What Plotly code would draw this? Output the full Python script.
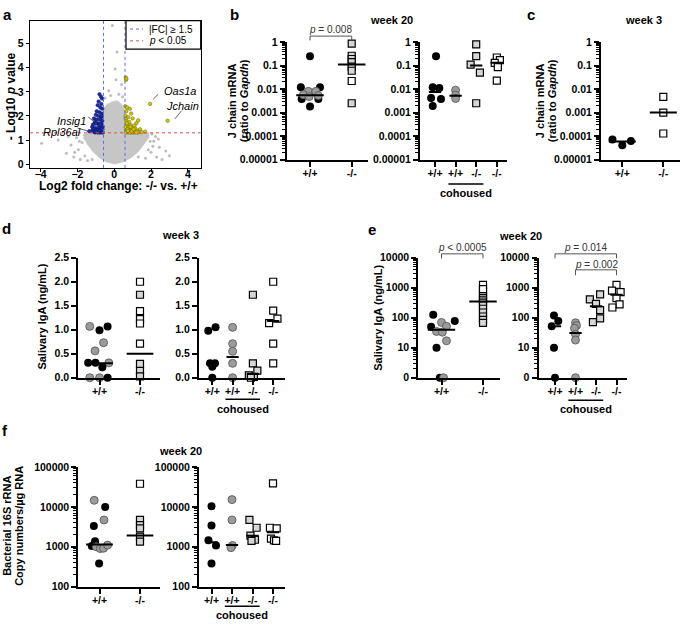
import plotly.graph_objects as go

W, H = 685, 626
FONT = "Liberation Sans"

# ==================== a: volcano data ====================
# outline of the dense cloud of unchanged genes (log2 FC, -log10 p)
cloud_x = [0.0, 0.5, 0.9, 1.3, 1.6, 1.9, 1.9, 0.62, 0.6, 0.4, 0.15, -0.1, -0.4, -0.6,
           -0.62, -1.5, -1.7, -1.45, -1.15, -0.8, -0.45, 0.0]
cloud_y = [0.0, 0.08, 0.25, 0.5, 0.8, 1.1, 1.32, 1.32, 2.2, 2.5, 2.65, 2.6, 2.5, 2.3,
           1.32, 1.32, 1.1, 0.8, 0.5, 0.25, 0.08, 0.0]
# scattered unchanged genes outside the cloud
grey_pts = [(-3.95, 0.87), (-3.05, 1.0), (-2.6, 0.45), (-2.35, 0.8), (-2.2, 0.3), (-2.05, 1.1),
            (-1.95, 0.6), (-1.85, 0.2), (-2.5, 1.15), (-1.75, 0.9), (-1.6, 0.35), (-1.45, 0.15),
            (2.0, 0.5), (2.15, 0.95), (2.3, 0.3), (2.45, 0.7), (2.6, 0.2), (2.8, 0.55), (3.0, 0.35),
            (2.25, 1.15), (2.05, 1.25), (1.85, 0.6), (1.7, 0.25), (-0.1, 5.75), (0.15, 4.65),
            (0.05, 3.95), (0.4, 3.3), (-0.3, 3.05), (0.25, 2.9), (-0.5, 2.75), (0.45, 2.8),
            (0.1, 3.5), (-0.2, 2.85), (1.3, 0.3), (-1.2, 0.2), (2.1, 0.75), (-1.9, 0.95),
            (-2.15, 0.5), (1.95, 0.95), (2.4, 1.05), (-1.6, 1.2)]
# down-regulated (blue) and up-regulated (yellow) genes
down_pts = [(-0.80, 2.90), (-0.72, 2.80), (-0.66, 2.72), (-0.85, 2.60), (-0.70, 2.50), (-0.90, 2.45),
            (-0.76, 2.35), (-0.65, 2.30), (-0.95, 2.20), (-0.80, 2.15), (-0.68, 2.10), (-1.00, 2.05),
            (-0.86, 2.00), (-0.71, 1.95), (-1.10, 1.90), (-0.95, 1.85), (-0.78, 1.85), (-0.65, 1.80),
            (-1.05, 1.75), (-0.88, 1.70), (-0.72, 1.70), (-1.15, 1.65), (-1.00, 1.68), (-0.82, 1.60),
            (-0.66, 1.60), (-1.20, 1.55), (-1.05, 1.50), (-0.90, 1.50), (-0.75, 1.50), (-0.64, 1.45),
            (-1.15, 1.45), (-1.00, 1.42), (-0.85, 1.40), (-0.70, 1.40), (-1.22, 1.38), (-1.10, 1.35),
            (-0.95, 1.35), (-0.80, 1.33), (-0.66, 1.33), (-1.05, 1.32), (-0.90, 1.31), (-0.75, 1.31),
            (-0.62, 1.31), (-0.68, 2.00), (-0.74, 1.65), (-0.63, 1.55), (-0.69, 1.45), (-0.77, 1.40),
            (-0.83, 1.36), (-0.92, 1.38), (-1.00, 1.34), (-1.36, 1.37)]
up_pts = [(0.62, 3.60), (0.64, 3.50), (0.66, 3.55), (0.60, 2.40), (0.70, 2.35), (0.85, 2.30),
          (0.65, 2.20), (0.92, 2.10), (0.62, 2.00), (0.76, 1.95), (1.00, 1.90), (0.66, 1.80),
          (0.82, 1.75), (1.20, 1.70), (1.30, 1.82), (0.70, 1.65), (0.90, 1.62), (1.10, 1.60),
          (0.62, 1.55), (0.78, 1.52), (0.95, 1.50), (1.15, 1.48), (1.40, 1.45), (0.66, 1.42),
          (0.85, 1.40), (1.00, 1.40), (1.25, 1.38), (1.68, 1.35), (0.70, 1.33), (0.90, 1.32),
          (1.10, 1.32), (1.30, 1.32), (1.50, 1.33), (0.63, 1.31), (0.80, 1.31), (1.00, 1.31),
          (1.20, 1.31), (0.72, 1.45), (0.88, 1.55), (0.68, 1.70), (0.74, 1.38), (0.95, 1.36),
          (1.05, 1.45), (0.62, 1.90), (1.95, 2.50), (2.90, 1.80)]
fc_cut = 0.585   # log2(1.5)
p_cut = 1.301    # -log10(0.05)

cats2 = ["+/+", "-/-"]
cats4 = ["+/+", "+/+", "-/-", "-/-"]

# ==================== b: J chain mRNA, week 20 ====================
b1_wt_black = [0.25, 0.012, 0.012, 0.0038, 0.0038, 0.0018]
b1_wt_black_jit = [0, -0.22, 0.24, -0.2, 0.2, 0]
b1_wt_grey = [0.008, 0.008, 0.0058, 0.0048, 0.0053]
b1_wt_grey_jit = [-0.04, 0.14, -0.16, -0.02, 0.2]
b1_ko_grey = [0.85, 0.26, 0.19, 0.14, 0.09, 0.06, 0.0025]
b1_ko_white = [0.022]
b1_med = [0.0055, 0.11]

b2_wt_black = [0.25, 0.012, 0.011, 0.0042, 0.0038, 0.0019]
b2_wt_black_jit = [0.05, -0.11, 0.21, -0.19, 0.29, -0.11]
b2_wt_grey = [0.009, 0.0055, 0.004]
b2_ko_grey = [0.8, 0.25, 0.11, 0.05, 0.0025]
b2_ko_grey_jit = [0, 0, -0.27, 0.18, 0]
b2_ko_white = [0.22, 0.17, 0.13, 0.085, 0.023]
b2_ko_white_jit = [0, 0.15, -0.1, 0.05, 0]
b2_med = [0.0075, 0.0052, 0.1, 0.13]

# ==================== c: J chain mRNA, week 3 ====================
c_wt_black = [0.000073, 0.000041, 0.000062]
c_wt_black_jit = [-0.24, 0, 0.21]
c_ko_white = [0.0047, 0.001, 0.00013]
c_med = [0.00006, 0.001]

# ==================== d: salivary IgA, week 3 ====================
d1_wt_black = [0.99, 1.07, 0.31, 0.31, 0.22, 0.0]
d1_wt_black_jit = [0, 0.2, -0.28, -0.1, 0.07, 0.2]
d1_wt_grey = [1.07, 0.73, 0.56, 0.31, 0.0, 0.0]
d1_wt_grey_jit = [-0.24, 0.1, -0.11, 0.23, -0.24, 0]
d1_ko_white = [2.0, 1.39, 1.22, 1.13, 0.71]
d1_ko_grey = [1.73, 0.29, 0.14, 0.03]
d1_med = [0.3, 0.5]

d2_wt_black = [0.98, 1.05, 0.3, 0.3, 0.23, 0.0]
d2_wt_black_jit = [-0.2, 0.16, -0.11, 0.13, 0, 0]
d2_wt_grey = [1.05, 0.71, 0.55, 0.3, 0.0]
d2_ko_grey = [1.73, 0.3, 0.15, 0.05, 0.02, 0.0]
d2_ko_grey_jit = [0, 0, 0.22, -0.2, 0.05, -0.1]
d2_ko_white = [2.0, 1.4, 1.23, 1.14, 0.71, 0.3]
d2_ko_white_jit = [0, 0, 0.21, -0.2, 0, 0]
d2_med = [0.29, 0.43, 0.08, 1.18]

# ==================== e: salivary IgA, week 20 (0 plotted at 1) ====================
e1_wt_black = [125, 78, 50, 10, 1]
e1_wt_black_jit = [-0.2, 0.32, -0.25, -0.12, -0.04]
e1_wt_grey = [70, 52, 35, 33, 17, 1]
e1_wt_grey_jit = [0, 0.12, -0.12, 0.02, 0.12, 0.05]
e1_ko_white = [1250, 900]
e1_ko_grey = [700, 560, 450, 380, 320, 260, 200, 150, 110, 85, 68]
e1_med = [40, 350]

e2_wt_black = [120, 78, 52, 10, 1]
e2_wt_black_jit = [-0.05, 0.16, -0.16, -0.05, 0]
e2_wt_grey = [68, 55, 45, 28, 18, 1]
e2_wt_grey_jit = [0, 0.05, -0.05, 0, 0, 0]
e2_ko_grey = [600, 410, 290, 180, 95, 72]
e2_ko_grey_jit = [0.2, -0.3, 0, 0.2, 0.2, -0.15]
e2_ko_white = [1250, 800, 720, 450, 280, 220]
e2_ko_white_jit = [0, -0.22, 0.2, 0, 0.15, -0.2]
e2_med = [52, 31, 240, 580]

# ==================== f: bacterial 16S rRNA, week 20 ====================
f1_wt_black = [10000, 3300, 1380, 1040, 380]
f1_wt_black_jit = [0.14, -0.14, -0.11, -0.19, -0.01]
f1_wt_grey = [14600, 4700, 1000, 900, 920, 1100]
f1_wt_grey_jit = [-0.13, 0.11, -0.08, 0.02, 0.1, 0.2]
f1_ko_white = [38000]
f1_ko_grey = [4700, 3500, 2900, 1800, 1350]
f1_med = [1140, 1910]

f2_wt_black = [10400, 3400, 1460, 1080, 380]
f2_wt_black_jit = [0, 0, -0.15, 0.22, 0]
f2_wt_grey = [15200, 4700, 1080, 950]
f2_wt_grey_jit = [0, 0, 0.02, -0.05]
f2_ko_grey = [4700, 3000, 1900, 1500, 1400]
f2_ko_grey_jit = [-0.15, 0.2, -0.1, 0.12, -0.05]
f2_ko_white = [39000, 3000, 2900, 1600, 1450, 1400]
f2_ko_white_jit = [0, -0.15, 0.18, -0.1, 0.05, 0.15]
f2_med = [1300, 1100, 1900, 2300]


# ==================== helpers ====================
def fx(p):
    return p / W


def fy(p):
    return 1 - p / H


def ref(n):
    return "" if n == 1 else str(n)


MARK = {
    "black": dict(symbol="circle", size=8, color="black", line=dict(width=0)),
    "grey": dict(symbol="circle", size=8, color="#9b9b9b", line=dict(color="#505050", width=0.8)),
    "lsq": dict(symbol="square", size=7, color="#d6d6d6", line=dict(color="black", width=1.2)),
    "wsq": dict(symbol="square", size=7, color="white", line=dict(color="black", width=1.2)),
}
TICKFONT = dict(family=FONT, size=10.5, color="black", weight="bold")

fig = go.Figure()


def dots(n, cat, vals, kind, jit=None):
    jit = jit or [0] * len(vals)
    fig.add_trace(go.Scatter(
        x=[cat + j for j in jit], y=vals, mode="markers", marker=MARK[kind],
        xaxis="x" + ref(n), yaxis="y" + ref(n), cliponaxis=False,
        showlegend=False, hoverinfo="skip"))


def medians(n, meds, half):
    for i, m in enumerate(meds):
        fig.add_trace(go.Scatter(
            x=[i - half, i + half], y=[m, m], mode="lines",
            line=dict(color="black", width=2), xaxis="x" + ref(n), yaxis="y" + ref(n),
            showlegend=False, hoverinfo="skip"))


def minor_vals(lo, hi):
    return [m * 10 ** e for e in range(lo, hi) for m in range(2, 10)]


def log_y(lo, hi, labels):
    return dict(type="log", range=[lo, hi], tickmode="array",
                tickvals=[10 ** e for e in range(lo, hi + 1)], ticktext=labels,
                minor=dict(tickmode="array", tickvals=minor_vals(lo, hi), ticks="outside",
                           ticklen=3, tickwidth=1, tickcolor="black"))


def cat_axes(n, x0, x1, y0, y1, c0, step, labels, ykw):
    fig.update_layout(**{
        "xaxis" + ref(n): dict(
            domain=[fx(x0), fx(x1)], range=[(x0 - c0) / step, (x1 - c0) / step],
            anchor="y" + ref(n), tickmode="array", tickvals=list(range(len(labels))),
            ticktext=labels, showline=True, linewidth=2, linecolor="black",
            ticks="outside", ticklen=5, tickwidth=2, tickcolor="black", ticklabelstandoff=-2,
            showgrid=False, zeroline=False, tickfont=TICKFONT),
        "yaxis" + ref(n): dict(
            domain=[fy(y1), fy(y0)], anchor="x" + ref(n), showline=True, linewidth=2,
            linecolor="black", ticks="outside", ticklen=5, tickwidth=2, tickcolor="black",
            showgrid=False, zeroline=False, tickfont=TICKFONT, **ykw),
    })


ann = []
shapes = []


def text(x, y, s, size=11, bold=True, xref="paper", yref="paper", angle=0,
         xanchor="center", color="black"):
    ann.append(dict(x=x, y=y, xref=xref, yref=yref, text=s, showarrow=False,
                    textangle=angle, xanchor=xanchor, yanchor="middle",
                    font=dict(family=FONT, size=size, color=color,
                              weight="bold" if bold else "normal")))


def bracket(n, c1, c2, ytop, ybot, label, ytext):
    shapes.append(dict(type="path", xref="x" + ref(n), yref="paper",
                       path=f"M {c1},{fy(ybot)} L {c1},{fy(ytop)} L {c2},{fy(ytop)} L {c2},{fy(ybot)}",
                       line=dict(color="#555555", width=1)))
    text((c1 + c2) / 2, fy(ytext), label, size=10, bold=False, xref="x" + ref(n), color="#333333")


def cohoused(n, yline, ytext):
    shapes.append(dict(type="line", xref="x" + ref(n), yref="paper", x0=1 - 0.35, x1=2 + 0.35,
                       y0=fy(yline), y1=fy(yline), line=dict(color="black", width=1.5)))
    text(1.5, fy(ytext), "cohoused", size=11, xref="x" + ref(n))


# ==================== a: volcano ====================
fig.add_trace(go.Scatter(x=cloud_x, y=cloud_y, mode="lines", fill="toself",
                         fillcolor="#c6c6c6", line=dict(width=0), showlegend=False, hoverinfo="skip"))
fig.add_trace(go.Scatter(x=[p[0] for p in grey_pts], y=[p[1] for p in grey_pts], mode="markers",
                         marker=dict(size=3, color="#bdbdbd"), showlegend=False, hoverinfo="skip"))
fig.add_trace(go.Scatter(x=[p[0] for p in down_pts], y=[p[1] for p in down_pts], mode="markers",
                         marker=dict(size=3.5, color="#1f2fa8", line=dict(color="#0a1260", width=0.5)),
                         showlegend=False, hoverinfo="skip"))
fig.add_trace(go.Scatter(x=[p[0] for p in up_pts], y=[p[1] for p in up_pts], mode="markers",
                         marker=dict(size=3.5, color="#cfc800", line=dict(color="#6a6500", width=0.5)),
                         showlegend=False, hoverinfo="skip"))
fig.update_layout(
    xaxis=dict(domain=[fx(30), fx(200.7)], range=[-4.58, 4.7], anchor="y", tickvals=[-4, -2, 0, 2, 4],
               showline=True, mirror=True, linewidth=1.2, linecolor="black", ticks="outside",
               ticklen=3, tickwidth=1, tickcolor="black", ticklabelstandoff=-7,
               showgrid=False, zeroline=False, tickfont=TICKFONT),
    yaxis=dict(domain=[fy(165), fy(15)], range=[-0.15, 5.95], anchor="x", dtick=1,
               showline=True, mirror=True, linewidth=1.2, linecolor="black", ticks="outside",
               ticklen=3, tickwidth=1, tickcolor="black", showgrid=False, zeroline=False, tickfont=TICKFONT),
)
for v in (-fc_cut, fc_cut):
    shapes.append(dict(type="line", xref="x", yref="y domain", x0=v, x1=v, y0=0, y1=1,
                       line=dict(color="#5a6cf0", width=1, dash="dot")))
shapes.append(dict(type="line", xref="x domain", yref="y", x0=0, x1=1, y0=p_cut, y1=p_cut,
                   line=dict(color="#e05050", width=1, dash="dot")))
# legend box
shapes.append(dict(type="rect", xref="paper", yref="paper", x0=fx(126), x1=fx(200.7), y0=fy(44), y1=fy(15),
                   line=dict(color="black", width=1.2), fillcolor="white"))
shapes.append(dict(type="line", xref="paper", yref="paper", x0=fx(130), x1=fx(143), y0=fy(23.5), y1=fy(23.5),
                   line=dict(color="#5a6cf0", width=1, dash="dot")))
shapes.append(dict(type="line", xref="paper", yref="paper", x0=fx(130), x1=fx(143), y0=fy(35.5), y1=fy(35.5),
                   line=dict(color="#e05050", width=1, dash="dot")))
text(fx(147), fy(23.5), "|FC| ≥ 1.5", size=10, bold=False, xanchor="left")
text(fx(147), fy(35.5), "<i>p</i> < 0.05", size=10, bold=False, xanchor="left")
# gene labels with leader lines
for (x0, y0, x1, y1) in [(2.12, 2.7, 2.39, 2.9), (3.3, 1.88, 3.66, 2.22),
                         (-1.41, 1.95, -0.98, 1.7), (-2.0, 1.5, -1.45, 1.38)]:
    shapes.append(dict(type="line", xref="x", yref="y", x0=x0, y0=y0, x1=x1, y1=y1,
                       line=dict(color="#333333", width=0.8)))
text(2.58, 3.02, "<i>Oas1a</i>", bold=False, xref="x", yref="y", xanchor="left")
text(3.73, 2.4, "<i>Jchain</i>", bold=False, xref="x", yref="y")
text(-2.3, 1.78, "<i>Insig1</i>", bold=False, xref="x", yref="y")
text(-2.85, 1.34, "<i>Rpl36al</i>", bold=False, xref="x", yref="y")
text(fx(118), fy(184), "Log2 fold change: -/- vs. +/+", size=12)
text(fx(11), fy(92), "- Log10 <i>p</i> value", size=12, angle=-90)

# ==================== b ====================
b_y = log_y(-5, 0, ["0.00001", "0.0001", "0.001", "0.01", "0.1", "1"])
cat_axes(2, 286.7, 368, 36.7, 156.7, 310, 41.7, cats2, b_y)
dots(2, 0, b1_wt_black, "black", b1_wt_black_jit)
dots(2, 0, b1_wt_grey, "grey", b1_wt_grey_jit)
dots(2, 1, b1_ko_grey, "lsq")
dots(2, 1, b1_ko_white, "wsq")
medians(2, b1_med, 0.33)

cat_axes(3, 420, 506.7, 36.7, 156.7, 435, 20.6, cats4, b_y)
dots(3, 0, b2_wt_black, "black", b2_wt_black_jit)
dots(3, 1, b2_wt_grey, "grey")
dots(3, 2, b2_ko_grey, "lsq", b2_ko_grey_jit)
dots(3, 3, b2_ko_white, "wsq", b2_ko_white_jit)
medians(3, b2_med, 0.3)
bracket(2, 0, 1, 30.7, 35, "<i>p</i> = 0.008", 24)
cohoused(3, 181.5, 190.5)
text(fx(391.7), fy(14), "week 20")
text(fx(232), fy(97), "J chain mRNA", angle=-90)
text(fx(244), fy(97), "(ratio to <i>Gapdh</i>)", angle=-90)

# ==================== c ====================
cat_axes(4, 601, 680, 36.7, 156.7, 622.3, 41, cats2, b_y)
dots(4, 0, c_wt_black, "black", c_wt_black_jit)
dots(4, 1, c_ko_white, "wsq")
medians(4, c_med, 0.33)
text(fx(643), fy(14), "week 3")
text(fx(540), fy(97), "J chain mRNA", angle=-90)
text(fx(552), fy(97), "(ratio to <i>Gapdh</i>)", angle=-90)

# ==================== d ====================
d_y = dict(range=[0, 2.5], tickmode="array", tickvals=[0, 0.5, 1.0, 1.5, 2.0, 2.5],
           ticktext=["0.0", "0.5", "1.0", "1.5", "2.0", "2.5"])
cat_axes(5, 78.3, 160, 256.7, 379, 99.5, 40.5, cats2, d_y)
dots(5, 0, d1_wt_grey, "grey", d1_wt_grey_jit)
dots(5, 0, d1_wt_black, "black", d1_wt_black_jit)
dots(5, 1, d1_ko_white, "wsq")
dots(5, 1, d1_ko_grey, "lsq")
medians(5, d1_med, 0.33)

cat_axes(6, 199, 285, 256.7, 379, 212.3, 20.3, cats4, d_y)
dots(6, 0, d2_wt_black, "black", d2_wt_black_jit)
dots(6, 1, d2_wt_grey, "grey")
dots(6, 2, d2_ko_grey, "lsq", d2_ko_grey_jit)
dots(6, 3, d2_ko_white, "wsq", d2_ko_white_jit)
medians(6, d2_med, 0.3)
cohoused(6, 401, 410.5)
text(fx(180), fy(233), "week 3")
text(fx(41.7), fy(317), "Salivary IgA (ng/mL)", angle=-90)

# ==================== e ====================
e_y = log_y(0, 4, ["0", "10", "100", "1000", "10000"])
cat_axes(7, 418.3, 500, 256.7, 379, 441.5, 41.5, cats2, e_y)
dots(7, 0, e1_wt_black, "black", e1_wt_black_jit)
dots(7, 0, e1_wt_grey, "grey", e1_wt_grey_jit)
dots(7, 1, e1_ko_grey, "lsq")
dots(7, 1, e1_ko_white, "wsq")
medians(7, e1_med, 0.33)

cat_axes(8, 538.5, 626.7, 256.7, 379, 555, 20.5, cats4, e_y)
dots(8, 0, e2_wt_black, "black", e2_wt_black_jit)
dots(8, 1, e2_wt_grey, "grey", e2_wt_grey_jit)
dots(8, 2, e2_ko_grey, "lsq", e2_ko_grey_jit)
dots(8, 3, e2_ko_white, "wsq", e2_ko_white_jit)
medians(8, e2_med, 0.3)
bracket(7, 0, 1, 252.7, 257.3, "<i>p</i> < 0.0005", 246)
bracket(8, 0, 3, 252.7, 257.3, "<i>p</i> = 0.014", 246)
bracket(8, 1, 3, 269, 274.5, "<i>p</i> = 0.002", 263.5)
cohoused(8, 402, 411)
text(fx(520), fy(234), "week 20")
text(fx(378.3), fy(317.5), "Salivary IgA (ng/mL)", angle=-90)

# ==================== f ====================
f_y = log_y(2, 5, ["100", "1000", "10000", "100000"])
cat_axes(9, 78.3, 160, 470, 592, 99.5, 40.5, cats2, f_y)
dots(9, 0, f1_wt_black, "black", f1_wt_black_jit)
dots(9, 0, f1_wt_grey, "grey", f1_wt_grey_jit)
dots(9, 1, f1_ko_grey, "lsq")
dots(9, 1, f1_ko_white, "wsq")
medians(9, f1_med, 0.33)

cat_axes(10, 199, 285, 470, 592, 211.5, 20.5, cats4, f_y)
dots(10, 0, f2_wt_black, "black", f2_wt_black_jit)
dots(10, 1, f2_wt_grey, "grey", f2_wt_grey_jit)
dots(10, 2, f2_ko_grey, "lsq", f2_ko_grey_jit)
dots(10, 3, f2_ko_white, "wsq", f2_ko_white_jit)
medians(10, f2_med, 0.3)
cohoused(10, 612, 621)
text(fx(180), fy(454), "week 20")
text(fx(7), fy(530), "Bacterial 16S rRNA", angle=-90)
text(fx(19), fy(530), "Copy numbers/µg RNA", angle=-90)

# ==================== panel letters ====================
for letter, x, y in [("a", 8, 9), ("b", 234, 9), ("c", 531, 9), ("d", 6, 227), ("e", 372, 228), ("f", 5, 433)]:
    text(fx(x), fy(y), letter, size=15)

# ==================== Layout Settings ====================
fig.update_layout(
    width=W, height=H, margin=dict(l=0, r=0, t=0, b=0),
    paper_bgcolor="white", plot_bgcolor="white",
    annotations=ann, shapes=shapes,
    font=dict(family=FONT, color="black"),
)

# page body has a default 8px margin; drop it so the figure sits at the window corner
fig.write_html("out.html", config={"displayModeBar": False, "staticPlot": True},
               post_script="document.body.style.margin='0px';")
